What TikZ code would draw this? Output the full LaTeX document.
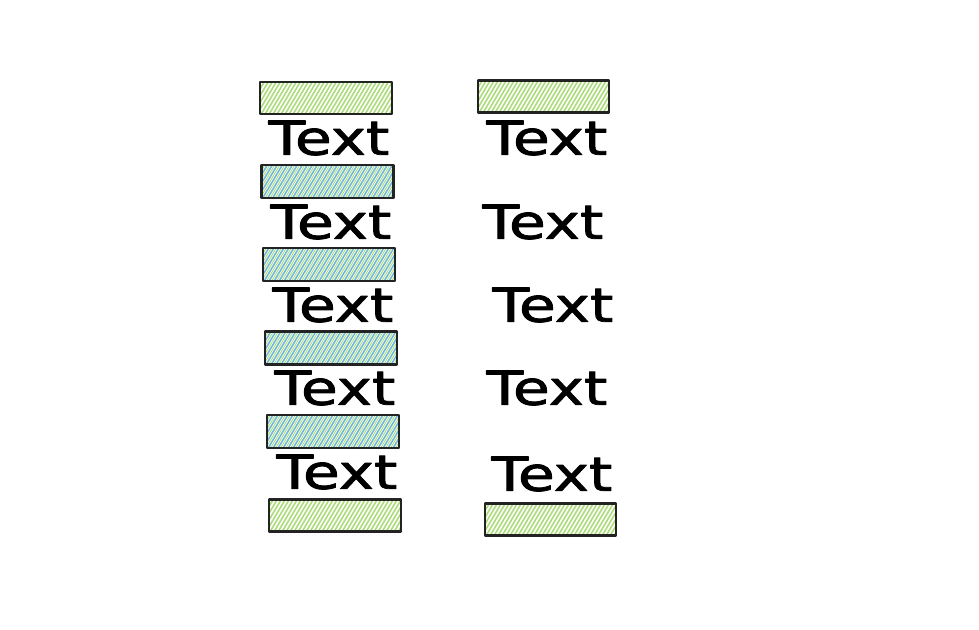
\documentclass[tikz,border=0pt]{standalone}
\usepackage{fontspec}
\newfontfamily\handfont[FakeBold=1.6]{DejaVu Sans}
\usetikzlibrary{calc}
\definecolor{litegreen}{RGB}{172,220,124}
\definecolor{liteblue}{RGB}{112,184,212}
\definecolor{darkline}{RGB}{35,35,35}
\tikzset{
	greenbar/.style={draw=darkline,line width=2.2pt,minimum width=132,minimum height=32,inner sep=0pt,
		path picture={
			\foreach \i in {-24,-20,...,140}
				\draw[litegreen,line width=1.6pt] ($(path picture bounding box.south west)+(\i,2)$) -- ++(22,-37);
		}},
	tealbar/.style={draw=darkline,line width=2.2pt,minimum width=132,minimum height=33,inner sep=0pt,
		path picture={
			\foreach \i in {-25,-20,...,140}{
				\draw[liteblue,line width=1.6pt] ($(path picture bounding box.south west)+(\i,2)$) -- ++(22,-37);
				\draw[litegreen,line width=0.9pt] ($(path picture bounding box.south west)+(\i+2.5,2)$) -- ++(22,-37);
			}
		}},
	word/.style={inner sep=0pt,transform shape,xscale=1.27,font=\handfont\fontsize{47}{47}\selectfont}
}
\begin{document}
\begin{tikzpicture}[line cap=round,line join=round,x=1pt,y=-1pt]
	\useasboundingbox (0,0) rectangle (979,629);
	\node[greenbar] (gl1) at (326,98) {};
	\node[tealbar] (tl1) at (327.5,181.5) {};
	\node[tealbar] (tl2) at (329,264.5) {};
	\node[tealbar] (tl3) at (331,348) {};
	\node[tealbar] (tl4) at (333,431.5) {};
	\node[greenbar] (gl2) at (335,515.5) {};
	\node[greenbar,minimum width=131] (gr1) at (543.5,96.5) {};
	\node[greenbar,minimum width=131] (gr2) at (550.5,519.5) {};
	\node[word] (lt1) at (329,138) {Text};
	\node[word] (lt2) at (331,222) {Text};
	\node[word] (lt3) at (333,305) {Text};
	\node[word] (lt4) at (335,388) {Text};
	\node[word] (lt5) at (337,472) {Text};
	\node[word] (rt1) at (547,138) {Text};
	\node[word] (rt2) at (543,222) {Text};
	\node[word] (rt3) at (553,305) {Text};
	\node[word] (rt4) at (547,388) {Text};
	\node[word] (rt5) at (552,474) {Text};
\end{tikzpicture}
\end{document}
